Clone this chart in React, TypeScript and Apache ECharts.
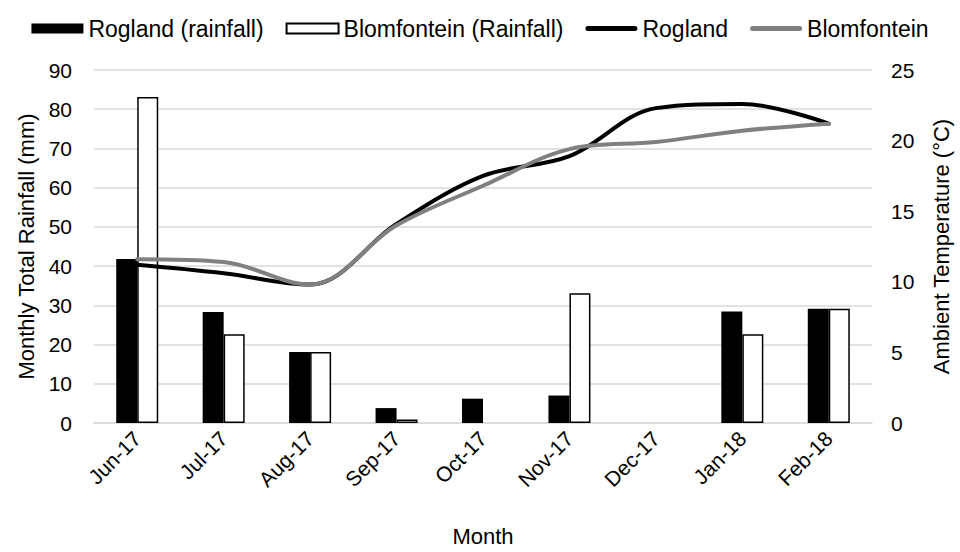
import React, { useEffect, useRef } from "react";
import * as echarts from "echarts";

const months = ["Jun-17", "Jul-17", "Aug-17", "Sep-17", "Oct-17", "Nov-17", "Dec-17", "Jan-18", "Feb-18"];
const roglandRain = [41.8, 28.3, 18.1, 3.8, 6.2, 7.0, null, 28.4, 29.1];
const blomRain = [83.1, 22.6, 18.1, 0.9, null, 33.1, null, 22.6, 29.1];
const roglandTemp = [11.2, 10.6, 9.8, 14.1, 17.5, 18.9, 22.3, 22.6, 21.2];
const blomTemp = [11.6, 11.4, 9.8, 14.0, 16.8, 19.4, 19.9, 20.7, 21.2];
const rainTicks = { min: 0, max: 90, interval: 10 };
const tempTicks = { min: 0, max: 25, interval: 5 };

const FONT = "'Liberation Sans', Arial, sans-serif";
const LINE_ICON = "path://M2.5,0 H49.5 A2.5,2.5 0 0 1 49.5,5 H2.5 A2.5,2.5 0 0 1 2.5,0 Z";

export default function App() {
  const ref = useRef<HTMLDivElement>(null);
  useEffect(() => {
    document.body.style.margin = "0";
    if (!ref.current) return;
    const chart = echarts.init(ref.current, null, { renderer: "svg" });
    chart.setOption({
      animation: false,
      textStyle: { fontFamily: FONT, color: "#000" },
      legend: {
        top: 12,
        left: "center",
        itemWidth: 52,
        itemHeight: 10,
        itemGap: 22,
        textStyle: { fontSize: 23, color: "#000", fontFamily: FONT },
        data: [
          { name: "Rogland (rainfall)", icon: "rect" },
          { name: "Blomfontein (Rainfall)", icon: "rect" },
          { name: "Rogland", icon: LINE_ICON, itemStyle: { color: "#000", borderWidth: 0 } },
          { name: "Blomfontein", icon: LINE_ICON, itemStyle: { color: "#808080", borderWidth: 0 } },
        ],
      },
      grid: { left: 94, right: 84, top: 70, bottom: 123 },
      xAxis: {
        type: "category",
        data: months,
        axisTick: { show: false },
        axisLine: { lineStyle: { color: "#d9d9d9", width: 1.5 } },
        axisLabel: { rotate: 45, fontSize: 21, color: "#000", margin: 12, fontFamily: FONT },
        name: "Month",
        nameLocation: "middle",
        nameGap: 102,
        nameTextStyle: { fontSize: 22, color: "#000", fontFamily: FONT },
      },
      yAxis: [
        {
          type: "value",
          ...rainTicks,
          name: "Monthly Total Rainfall (mm)",
          nameLocation: "middle",
          nameGap: 55,
          nameTextStyle: { fontSize: 22, color: "#000", fontFamily: FONT },
          axisLine: { show: false },
          axisTick: { show: false },
          axisLabel: { fontSize: 21, color: "#000", margin: 22, fontFamily: FONT },
          splitLine: { lineStyle: { color: "#d9d9d9", width: 1.5 } },
        },
        {
          type: "value",
          ...tempTicks,
          position: "right",
          name: "Ambient Temperature (°C)",
          nameLocation: "middle",
          nameRotate: 90,
          nameGap: 58,
          nameTextStyle: { fontSize: 22, color: "#000", fontFamily: FONT },
          axisLine: { show: false },
          axisTick: { show: false },
          axisLabel: { fontSize: 21, color: "#000", margin: 19, fontFamily: FONT },
          splitLine: { show: false },
        },
      ],
      series: [
        {
          name: "Rogland (rainfall)",
          type: "bar",
          data: roglandRain,
          barWidth: 21,
          barGap: "0%",
          itemStyle: { color: "#000" },
        },
        {
          name: "Blomfontein (Rainfall)",
          type: "bar",
          data: blomRain,
          barWidth: 21,
          barGap: "0%",
          itemStyle: { color: "#fff", borderColor: "#000", borderWidth: 1.5 },
        },
        {
          name: "Rogland",
          type: "line",
          yAxisIndex: 1,
          data: roglandTemp,
          smooth: 0.35,
          symbol: "none",
          lineStyle: { color: "#000", width: 4, cap: "round" },
          itemStyle: { color: "#000" },
        },
        {
          name: "Blomfontein",
          type: "line",
          yAxisIndex: 1,
          data: blomTemp,
          smooth: 0.35,
          symbol: "none",
          lineStyle: { color: "#808080", width: 4, cap: "round" },
          itemStyle: { color: "#808080" },
        },
      ],
    });
    return () => chart.dispose();
  }, []);
  return <div ref={ref} style={{ width: 960, height: 552 }} />;
}
